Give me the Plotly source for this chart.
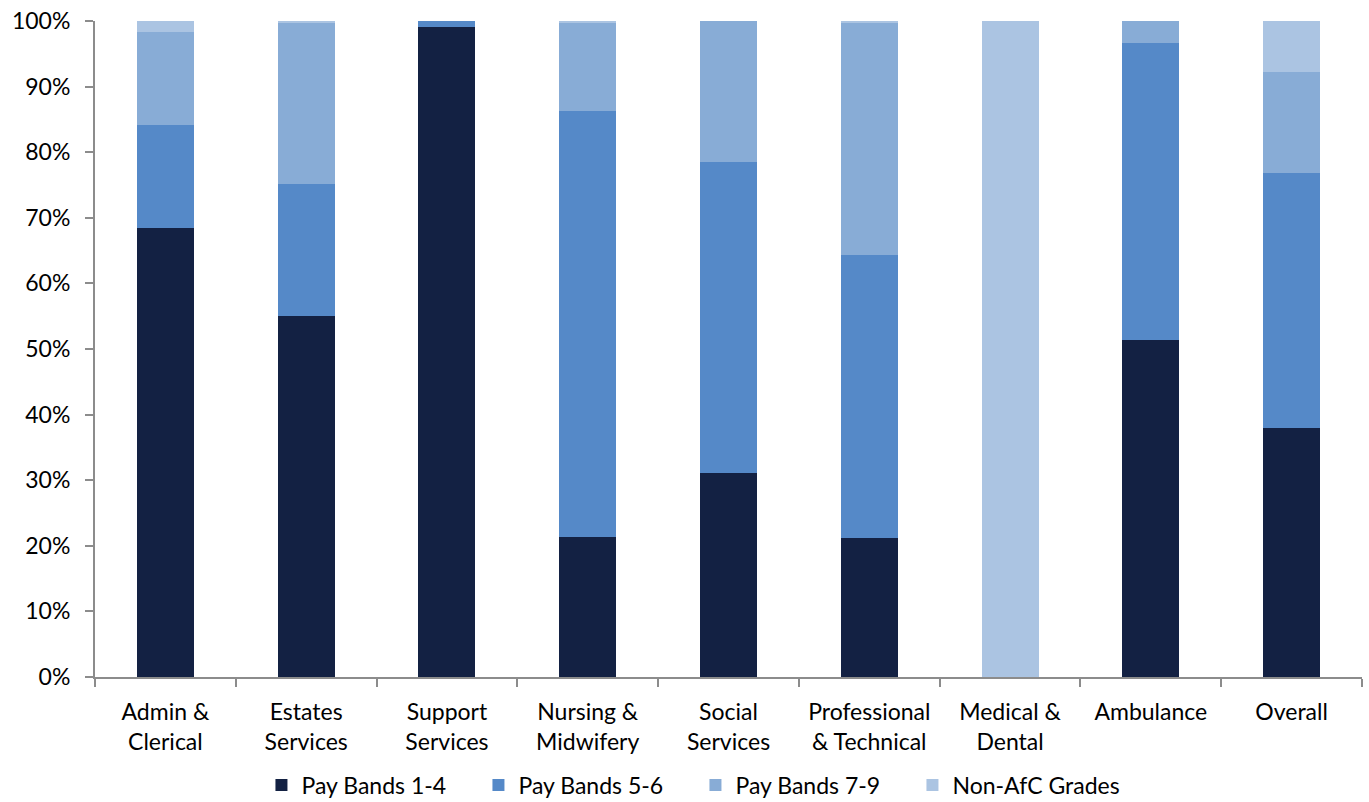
import plotly.graph_objects as go

categories = [
    "Admin &<br>Clerical", "Estates<br>Services", "Support<br>Services",
    "Nursing &<br>Midwifery", "Social<br>Services", "Professional<br>& Technical",
    "Medical &<br>Dental", "Ambulance", "Overall",
]
bands_1_4 = [68.4, 55.0, 99.1, 21.3, 31.1, 21.2, 0.0, 51.4, 38.0]
bands_5_6 = [15.7, 20.2, 0.9, 65.0, 47.4, 43.1, 0.0, 45.3, 38.8]
bands_7_9 = [14.3, 24.6, 0.0, 13.5, 21.5, 35.5, 0.0, 3.3, 15.5]
non_afc = [1.6, 0.2, 0.0, 0.2, 0.0, 0.2, 100.0, 0.0, 7.7]

series = [
    ("Pay Bands 1-4", bands_1_4, "#132143"),
    ("Pay Bands 5-6", bands_5_6, "#5589C8"),
    ("Pay Bands 7-9", bands_7_9, "#88ACD6"),
    ("Non-AfC Grades", non_afc, "#ABC4E2"),
]

font_family = "Lato, 'Open Sans', sans-serif"
axis_color = "#8C8C8C"

fig = go.Figure()
for name, vals, color in series:
    fig.add_trace(go.Bar(
        x=categories, y=vals, name=name,
        marker=dict(color=color, line=dict(width=0)),
        hoverinfo="x+y+name",
    ))

fig.update_layout(
    barmode="stack",
    bargap=0.595,
    width=1369, height=802,
    margin=dict(l=95, r=7, t=21, b=125),
    paper_bgcolor="white", plot_bgcolor="white",
    font=dict(family=font_family, size=23, color="#000000"),
    legend=dict(
        orientation="h", traceorder="normal",
        x=0.508, xref="container", xanchor="center",
        y=0.021, yref="container", yanchor="middle",
        entrywidth=172, entrywidthmode="pixels",
        font=dict(size=23), itemwidth=30,
    ),
    showlegend=True,
)

fig.update_yaxes(
    range=[0, 100], dtick=10, ticksuffix="%",
    showgrid=False, zeroline=False,
    showline=True, linecolor=axis_color, linewidth=2,
    ticks="outside", ticklen=8, tickcolor=axis_color, tickwidth=2,
    ticklabelstandoff=10,
)
fig.update_xaxes(
    showgrid=False,
    showline=True, linecolor=axis_color, linewidth=2,
    ticks="outside", tickson="boundaries", ticklen=8,
    tickcolor=axis_color, tickwidth=2,
    ticklabelstandoff=13,
)

fig.write_html("out.html")
